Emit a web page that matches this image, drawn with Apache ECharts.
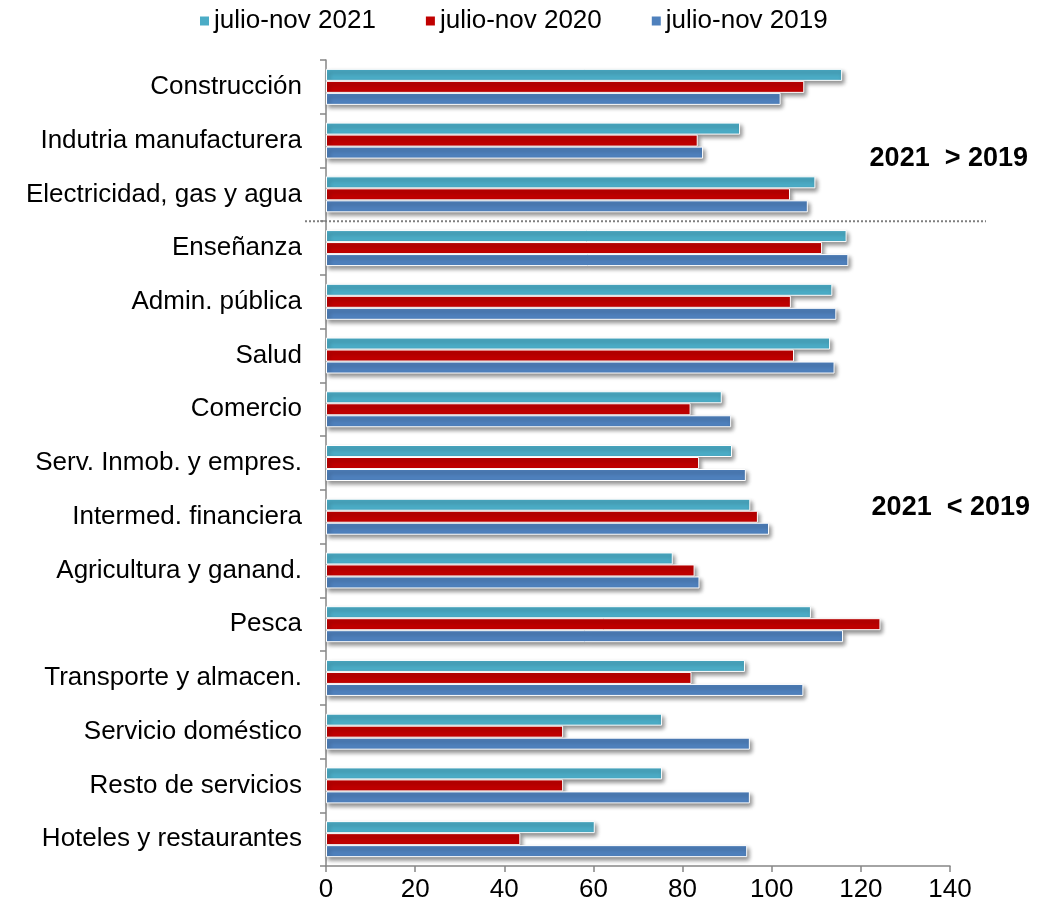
<!DOCTYPE html>
<html><head><meta charset="utf-8">
<script src="https://cdn.jsdelivr.net/npm/echarts@6/dist/echarts.min.js"></script>
<style>html,body{margin:0;padding:0;background:#fff}#c{width:1043px;height:910px}</style>
</head><body><div id="c"></div>
<script>
const categories = ["Construcción","Indutria manufacturera","Electricidad, gas y agua","Enseñanza","Admin. pública","Salud","Comercio","Serv. Inmob. y empres.","Intermed. financiera","Agricultura y ganand.","Pesca","Transporte y almacen.","Servicio doméstico","Resto de servicios","Hoteles y restaurantes"];
const seriesNames = ["julio-nov 2021","julio-nov 2020","julio-nov 2019"];
const v2021 = [115.8,92.9,109.8,116.8,113.6,113.1,88.8,91.1,95.2,77.8,108.8,94.0,75.4,75.4,60.3];
const v2020 = [107.3,83.4,104.1,111.3,104.3,105.0,81.8,83.7,96.9,82.7,124.4,82.0,53.2,53.2,43.6];
const v2019 = [102.0,84.6,108.1,117.2,114.5,114.1,90.9,94.2,99.4,83.8,116.0,107.1,95.1,95.1,94.5];
const xTicks = [0,20,40,60,80,100,120,140];
const colors = ["#4BACC6","#C00000","#4F81BD"];
const annotations = ["2021  > 2019","2021  < 2019"];

const chart = echarts.init(document.getElementById('c'));
const FONT = 'Liberation Sans, Arial, sans-serif';
const mk = (name, data, color) => ({
  name, type: 'bar', data, barWidth: 12, barGap: '0%',
  itemStyle: { color, borderColor: '#fff', borderWidth: 1, shadowBlur: 4, shadowColor: 'rgba(0,0,0,0.45)', shadowOffsetX: 2, shadowOffsetY: 3 },
  emphasis: { disabled: true }
});
chart.setOption({
  animation: false,
  textStyle: { fontFamily: FONT },
  legend: {
    top: 3, left: 193, itemWidth: 11, itemHeight: 11, itemGap: 48,
    icon: 'rect',
    textStyle: { fontSize: 26, color: '#000', fontFamily: FONT, padding: [0, 0, 0, -1] },
    data: seriesNames
  },
  grid: { left: 326, right: 93, top: 60, bottom: 44, containLabel: false },
  xAxis: {
    type: 'value', min: 0, max: 140, interval: 20,
    axisLine: { show: true, lineStyle: { color: '#868686', width: 1.5 } },
    axisTick: { show: true, length: 6, lineStyle: { color: '#868686', width: 1.5 } },
    splitLine: { show: false },
    axisLabel: { fontSize: 26, color: '#000', margin: 11, fontFamily: FONT,
      formatter: v => xTicks.includes(v) ? String(v) : '' }
  },
  yAxis: {
    type: 'category', data: categories, inverse: true,
    axisLine: { show: true, lineStyle: { color: '#868686', width: 1.5 } },
    axisTick: { show: true, length: 6, lineStyle: { color: '#868686', width: 1.5 } },
    axisLabel: { fontSize: 26, color: '#000', margin: 24, fontFamily: FONT }
  },
  series: [mk(seriesNames[0], v2021, colors[0]), mk(seriesNames[1], v2020, colors[1]), mk(seriesNames[2], v2019, colors[2])]
});

const y2 = chart.convertToPixel({ yAxisIndex: 0 }, categories[2]);
const y3 = chart.convertToPixel({ yAxisIndex: 0 }, categories[3]);
const yb = (y2 + y3) / 2;
const y1 = chart.convertToPixel({ yAxisIndex: 0 }, categories[1]);
const y8 = chart.convertToPixel({ yAxisIndex: 0 }, categories[8]);
chart.setOption({
  graphic: [
    { type: 'line', shape: { x1: 305, y1: yb, x2: 986, y2: yb }, style: { stroke: '#7f7f7f', lineWidth: 2, lineDash: [2, 2] }, z: 10 },
    { type: 'text', style: { text: annotations[0], x: 1028, y: y1 + 18, textAlign: 'right', textVerticalAlign: 'middle', font: 'bold 27px ' + FONT, fill: '#000' } },
    { type: 'text', style: { text: annotations[1], x: 1030, y: y8 - 9, textAlign: 'right', textVerticalAlign: 'middle', font: 'bold 27px ' + FONT, fill: '#000' } }
  ]
});
</script></body></html>
